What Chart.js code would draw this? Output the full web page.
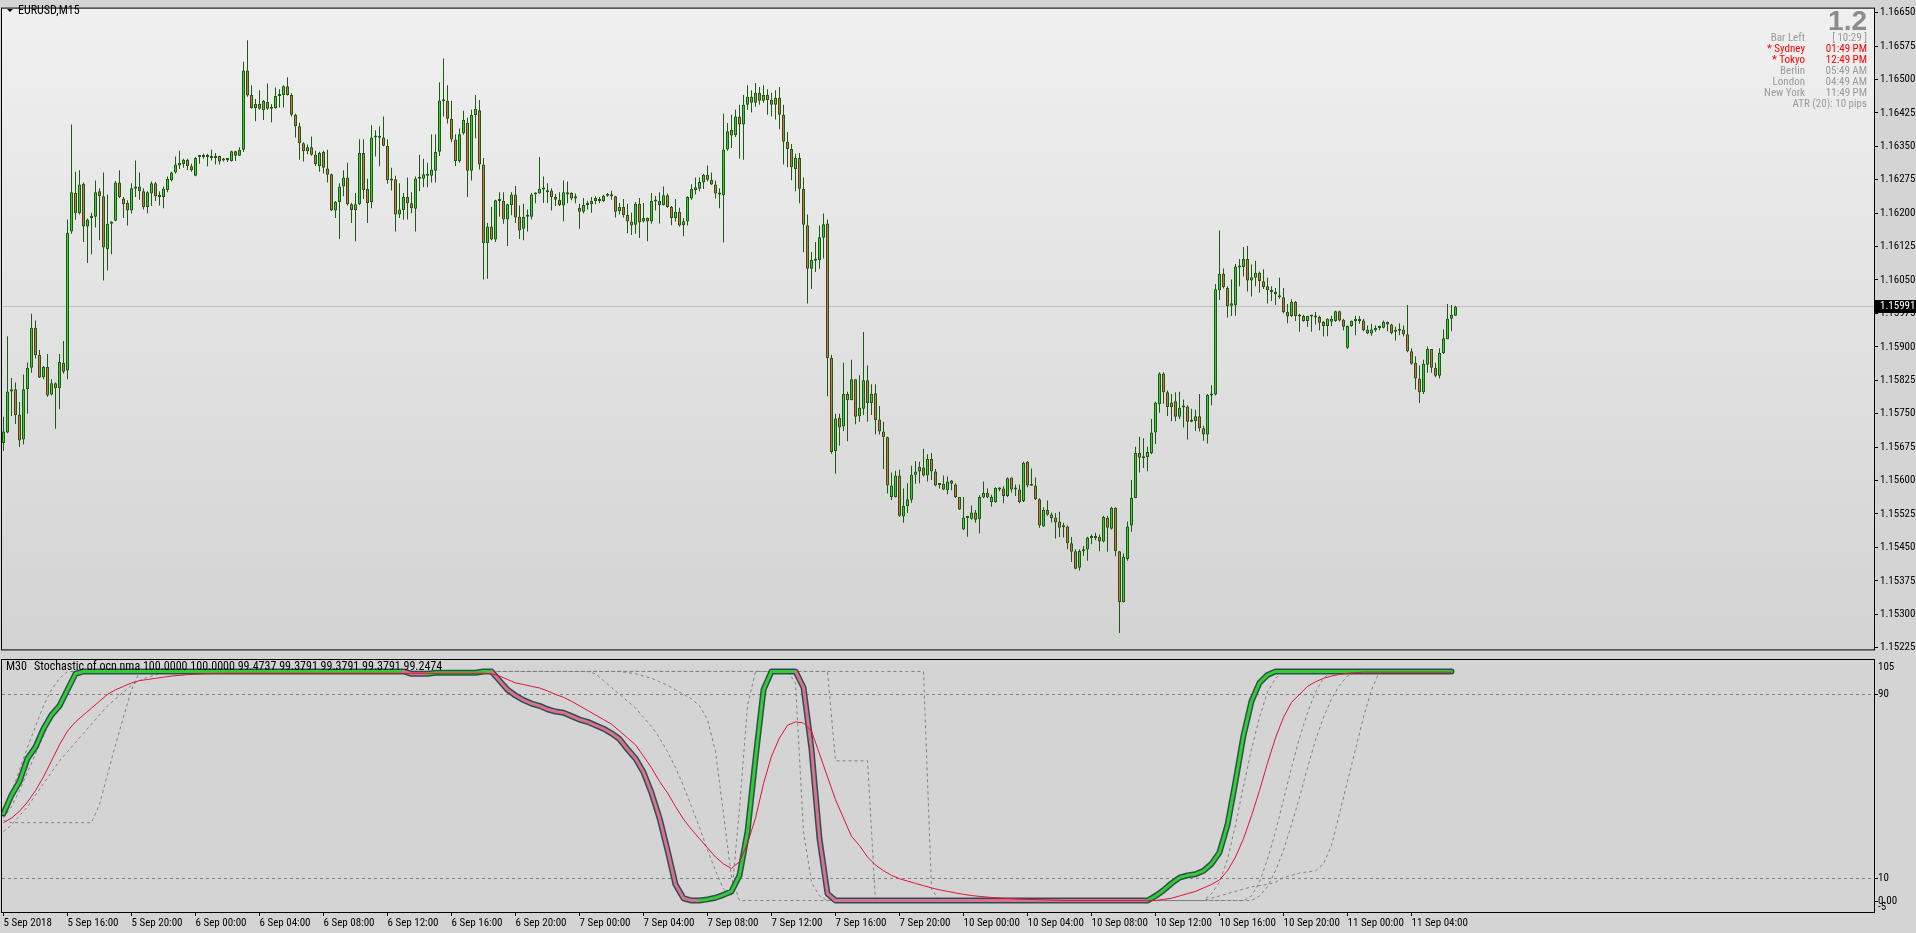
<!DOCTYPE html>
<html>
<head>
<meta charset="utf-8">
<title>EURUSD,M15</title>
<script src="https://cdn.jsdelivr.net/npm/chart.js@4.4.1/dist/chart.umd.min.js"></script>
<style>
html, body { margin: 0; padding: 0; background: #d4d4d4; overflow: hidden; }
#wrap { position: relative; width: 1916px; height: 933px; }
#main { position: absolute; left: 0; top: 0; }
#sub { position: absolute; left: 0; top: 658px; }
</style>
</head>
<body>
<div id="wrap">
<canvas id="main" width="1916" height="658"></canvas>
<canvas id="sub" width="1916" height="275"></canvas>
</div>
<script>
// EURUSD M15 candles, 5 Sep 2018 12:00 .. 11 Sep 2018 06:45
const opens = [
1.15684,1.15708,1.15800,1.15805,1.15748,1.15692,1.15805,1.15853,1.15943,1.15882,
1.15832,1.15855,1.15793,1.15818,1.15807,1.15864,1.15847,1.16159,1.16245,1.16200,
1.16266,1.16170,1.16189,1.16192,1.16249,1.16238,1.16119,1.16176,1.16183,1.16269,
1.16233,1.16223,1.16206,1.16255,1.16260,1.16249,1.16214,1.16244,1.16267,1.16236,
1.16236,1.16252,1.16274,1.16291,1.16307,1.16310,1.16320,1.16305,1.16284,1.16326,
1.16326,1.16328,1.16326,1.16324,1.16328,1.16318,1.16319,1.16317,1.16339,1.16329,
1.16342,1.16520,1.16465,1.16436,1.16445,1.16431,1.16450,1.16434,1.16436,1.16463,
1.16465,1.16485,1.16465,1.16421,1.16395,1.16357,1.16339,1.16348,1.16331,1.16305,
1.16337,1.16300,1.16287,1.16206,1.16225,1.16260,1.16280,1.16220,1.16207,1.16220,
1.16335,1.16254,1.16225,1.16370,1.16370,1.16370,1.16351,1.16273,1.16276,1.16197,
1.16207,1.16236,1.16222,1.16210,1.16277,1.16277,1.16284,1.16284,1.16295,1.16338,
1.16451,1.16452,1.16412,1.16365,1.16317,1.16379,1.16403,1.16295,1.16420,1.16431,
1.16309,1.16133,1.16170,1.16141,1.16227,1.16227,1.16186,1.16218,1.16242,1.16192,
1.16165,1.16192,1.16192,1.16242,1.16244,1.16254,1.16249,1.16251,1.16236,1.16230,
1.16217,1.16247,1.16245,1.16233,1.16212,1.16203,1.16218,1.16220,1.16227,1.16232,
1.16227,1.16239,1.16242,1.16238,1.16204,1.16214,1.16196,1.16181,1.16174,1.16221,
1.16181,1.16189,1.16181,1.16226,1.16227,1.16218,1.16240,1.16214,1.16189,1.16203,
1.16173,1.16181,1.16233,1.16252,1.16255,1.16269,1.16286,1.16275,1.16264,1.16242,
1.16240,1.16343,1.16387,1.16375,1.16417,1.16399,1.16443,1.16461,1.16448,1.16470,
1.16452,1.16465,1.16454,1.16443,1.16459,1.16421,1.16360,1.16344,1.16299,1.16324,
1.16254,1.16173,1.16075,1.16093,1.16094,1.16145,1.16177,1.15875,1.15666,1.15741,
1.15721,1.15794,1.15780,1.15827,1.15744,1.15761,1.15825,1.15774,1.15796,1.15737,
1.15710,1.15697,1.15563,1.15563,1.15611,1.15519,1.15543,1.15557,1.15613,1.15620,
1.15629,1.15611,1.15648,1.15620,1.15590,1.15593,1.15578,1.15600,1.15591,1.15563,
1.15490,1.15517,1.15514,1.15528,1.15513,1.15562,1.15572,1.15551,1.15551,1.15580,
1.15582,1.15565,1.15607,1.15580,1.15580,1.15554,1.15642,1.15589,1.15589,1.15558,
1.15497,1.15534,1.15524,1.15517,1.15508,1.15497,1.15497,1.15459,1.15441,1.15404,
1.15441,1.15445,1.15472,1.15472,1.15473,1.15463,1.15516,1.15492,1.15539,1.15441,
1.15327,1.15424,1.15499,1.15561,1.15662,1.15653,1.15653,1.15662,1.15708,1.15771,
1.15840,1.15798,1.15765,1.15778,1.15743,1.15765,1.15766,1.15733,1.15733,1.15744,
1.15717,1.15703,1.15791,1.15793,1.16027,1.16064,1.16032,1.15992,1.15994,1.16078,
1.16079,1.16097,1.16049,1.16055,1.16066,1.16047,1.16036,1.16024,1.16023,1.16016,
1.16011,1.15978,1.15969,1.16001,1.15969,1.15969,1.15958,1.15969,1.15967,1.15967,
1.15956,1.15947,1.15956,1.15958,1.15980,1.15961,1.15898,1.15947,1.15959,1.15959,
1.15959,1.15939,1.15930,1.15937,1.15943,1.15943,1.15956,1.15950,1.15935,1.15937,
1.15939,1.15928,1.15890,1.15864,1.15829,1.15798,1.15860,1.15895,1.15853,1.15835,
1.15886,1.15917,1.15963,1.15970
];
const highs = [
1.15743,1.15924,1.15830,1.15820,1.15776,1.15838,1.15865,1.15974,1.15959,1.15893,
1.15857,1.15884,1.15827,1.15820,1.15884,1.15913,1.16186,1.16399,1.16293,1.16296,
1.16269,1.16188,1.16201,1.16273,1.16256,1.16291,1.16242,1.16182,1.16272,1.16296,
1.16236,1.16229,1.16267,1.16318,1.16291,1.16256,1.16249,1.16271,1.16270,1.16249,
1.16260,1.16282,1.16293,1.16327,1.16340,1.16322,1.16322,1.16311,1.16326,1.16329,
1.16333,1.16333,1.16342,1.16335,1.16329,1.16324,1.16324,1.16340,1.16340,1.16348,
1.16540,1.16588,1.16487,1.16456,1.16476,1.16454,1.16491,1.16445,1.16482,1.16478,
1.16487,1.16505,1.16469,1.16423,1.16403,1.16359,1.16354,1.16372,1.16340,1.16338,
1.16340,1.16342,1.16289,1.16227,1.16267,1.16296,1.16313,1.16223,1.16245,1.16366,
1.16366,1.16277,1.16397,1.16386,1.16395,1.16417,1.16366,1.16302,1.16284,1.16267,
1.16245,1.16280,1.16247,1.16282,1.16331,1.16322,1.16313,1.16377,1.16377,1.16494,
1.16547,1.16487,1.16452,1.16377,1.16390,1.16430,1.16414,1.16432,1.16465,1.16454,
1.16324,1.16178,1.16214,1.16230,1.16247,1.16247,1.16221,1.16247,1.16261,1.16217,
1.16221,1.16208,1.16245,1.16247,1.16326,1.16282,1.16267,1.16256,1.16243,1.16247,
1.16273,1.16271,1.16247,1.16244,1.16221,1.16234,1.16228,1.16236,1.16238,1.16236,
1.16241,1.16245,1.16250,1.16239,1.16223,1.16232,1.16221,1.16201,1.16225,1.16234,
1.16223,1.16190,1.16245,1.16239,1.16247,1.16260,1.16244,1.16216,1.16232,1.16212,
1.16189,1.16238,1.16265,1.16280,1.16280,1.16288,1.16307,1.16291,1.16273,1.16256,
1.16423,1.16402,1.16421,1.16432,1.16443,1.16465,1.16487,1.16476,1.16492,1.16483,
1.16487,1.16478,1.16470,1.16476,1.16483,1.16443,1.16382,1.16355,1.16333,1.16335,
1.16280,1.16197,1.16113,1.16135,1.16172,1.16199,1.16186,1.15882,1.15750,1.15750,
1.15864,1.15799,1.15871,1.15827,1.15836,1.15933,1.15858,1.15816,1.15816,1.15767,
1.15732,1.15699,1.15618,1.15622,1.15624,1.15582,1.15594,1.15633,1.15644,1.15642,
1.15671,1.15659,1.15662,1.15626,1.15594,1.15611,1.15609,1.15601,1.15594,1.15563,
1.15563,1.15518,1.15544,1.15534,1.15567,1.15598,1.15582,1.15568,1.15585,1.15585,
1.15587,1.15607,1.15607,1.15591,1.15591,1.15642,1.15644,1.15627,1.15607,1.15560,
1.15540,1.15555,1.15528,1.15527,1.15530,1.15505,1.15499,1.15473,1.15446,1.15446,
1.15453,1.15474,1.15479,1.15483,1.15479,1.15521,1.15521,1.15541,1.15540,1.15442,
1.15436,1.15508,1.15601,1.15676,1.15698,1.15695,1.15676,1.15738,1.15777,1.15843,
1.15843,1.15802,1.15794,1.15798,1.15799,1.15782,1.15769,1.15761,1.15759,1.15794,
1.15723,1.15794,1.15814,1.16041,1.16161,1.16076,1.16036,1.16051,1.16086,1.16097,
1.16124,1.16126,1.16085,1.16093,1.16069,1.16074,1.16055,1.16036,1.16032,1.16055,
1.16032,1.15996,1.16007,1.16003,1.15974,1.15972,1.15970,1.15970,1.15978,1.15970,
1.15958,1.15964,1.15970,1.15981,1.15981,1.15963,1.15948,1.15959,1.15970,1.15969,
1.15963,1.15948,1.15952,1.15948,1.15948,1.15959,1.15957,1.15952,1.15945,1.15953,
1.15948,1.15994,1.15897,1.15879,1.15858,1.15871,1.15901,1.15895,1.15864,1.15897,
1.15939,1.15996,1.15994,1.15992
];
const lows = [
1.15666,1.15706,1.15745,1.15727,1.15675,1.15681,1.15750,1.15842,1.15874,1.15830,
1.15827,1.15788,1.15791,1.15716,1.15760,1.15840,1.15827,1.16154,1.16185,1.16197,
1.16135,1.16088,1.16108,1.16168,1.16139,1.16049,1.16071,1.16108,1.16182,1.16234,
1.16189,1.16172,1.16199,1.16236,1.16230,1.16208,1.16200,1.16216,1.16227,1.16217,
1.16211,1.16247,1.16271,1.16289,1.16299,1.16302,1.16296,1.16293,1.16283,1.16311,
1.16322,1.16305,1.16318,1.16309,1.16309,1.16316,1.16315,1.16316,1.16317,1.16328,
1.16337,1.16461,1.16434,1.16406,1.16432,1.16409,1.16432,1.16404,1.16434,1.16437,
1.16437,1.16464,1.16417,1.16370,1.16320,1.16316,1.16332,1.16329,1.16306,1.16293,
1.16289,1.16269,1.16205,1.16189,1.16142,1.16238,1.16217,1.16178,1.16137,1.16218,
1.16232,1.16178,1.16211,1.16327,1.16305,1.16350,1.16266,1.16251,1.16159,1.16189,
1.16185,1.16186,1.16200,1.16159,1.16249,1.16258,1.16258,1.16269,1.16269,1.16328,
1.16417,1.16401,1.16359,1.16306,1.16313,1.16376,1.16236,1.16273,1.16368,1.16298,
1.16051,1.16053,1.16139,1.16135,1.16192,1.16176,1.16126,1.16195,1.16178,1.16142,
1.16139,1.16159,1.16186,1.16222,1.16244,1.16223,1.16223,1.16206,1.16216,1.16216,
1.16182,1.16222,1.16229,1.16222,1.16165,1.16200,1.16208,1.16201,1.16220,1.16222,
1.16225,1.16237,1.16230,1.16190,1.16197,1.16190,1.16155,1.16151,1.16154,1.16144,
1.16179,1.16137,1.16176,1.16206,1.16177,1.16217,1.16212,1.16173,1.16181,1.16170,
1.16148,1.16172,1.16230,1.16242,1.16249,1.16254,1.16271,1.16263,1.16233,1.16211,
1.16134,1.16340,1.16346,1.16371,1.16322,1.16320,1.16432,1.16426,1.16439,1.16443,
1.16448,1.16421,1.16417,1.16410,1.16388,1.16309,1.16303,1.16274,1.16249,1.16222,
1.16112,1.15997,1.16030,1.16068,1.16075,1.16098,1.15789,1.15660,1.15615,1.15678,
1.15711,1.15688,1.15780,1.15726,1.15732,1.15747,1.15732,1.15747,1.15704,1.15703,
1.15626,1.15571,1.15556,1.15562,1.15518,1.15505,1.15527,1.15550,1.15593,1.15594,
1.15609,1.15598,1.15601,1.15587,1.15582,1.15578,1.15569,1.15578,1.15561,1.15534,
1.15489,1.15474,1.15512,1.15505,1.15481,1.15560,1.15561,1.15541,1.15550,1.15576,
1.15549,1.15563,1.15573,1.15565,1.15549,1.15552,1.15585,1.15588,1.15556,1.15494,
1.15496,1.15521,1.15506,1.15470,1.15473,1.15472,1.15446,1.15417,1.15401,1.15398,
1.15431,1.15420,1.15457,1.15466,1.15441,1.15461,1.15440,1.15490,1.15430,1.15258,
1.15326,1.15420,1.15485,1.15560,1.15618,1.15628,1.15621,1.15659,1.15682,1.15752,
1.15772,1.15745,1.15733,1.15733,1.15738,1.15719,1.15692,1.15731,1.15711,1.15710,
1.15689,1.15683,1.15769,1.15791,1.16005,1.16031,1.15966,1.15969,1.15970,1.16036,
1.16058,1.16024,1.16013,1.16036,1.16022,1.16030,1.15997,1.16003,1.15994,1.16008,
1.15975,1.15953,1.15967,1.15958,1.15934,1.15956,1.15945,1.15934,1.15950,1.15937,
1.15923,1.15924,1.15946,1.15956,1.15957,1.15937,1.15895,1.15945,1.15926,1.15952,
1.15935,1.15928,1.15925,1.15934,1.15937,1.15941,1.15935,1.15928,1.15914,1.15926,
1.15923,1.15888,1.15860,1.15804,1.15774,1.15794,1.15842,1.15842,1.15832,1.15829,
1.15884,1.15917,1.15935,1.15969
];
const closes = [
1.15710,1.15800,1.15805,1.15747,1.15690,1.15805,1.15853,1.15943,1.15881,1.15831,
1.15855,1.15791,1.15818,1.15807,1.15866,1.15844,1.16156,1.16247,1.16200,1.16264,
1.16170,1.16186,1.16194,1.16247,1.16238,1.16123,1.16176,1.16181,1.16269,1.16236,
1.16220,1.16206,1.16256,1.16260,1.16249,1.16214,1.16247,1.16267,1.16238,1.16239,
1.16255,1.16277,1.16291,1.16309,1.16313,1.16320,1.16305,1.16296,1.16324,1.16328,
1.16328,1.16326,1.16324,1.16328,1.16316,1.16319,1.16320,1.16339,1.16329,1.16342,
1.16520,1.16464,1.16436,1.16445,1.16434,1.16452,1.16434,1.16436,1.16463,1.16465,
1.16485,1.16465,1.16421,1.16395,1.16357,1.16339,1.16348,1.16331,1.16310,1.16335,
1.16302,1.16286,1.16206,1.16225,1.16260,1.16280,1.16220,1.16207,1.16220,1.16335,
1.16252,1.16223,1.16370,1.16371,1.16369,1.16351,1.16274,1.16276,1.16197,1.16208,
1.16236,1.16222,1.16211,1.16278,1.16278,1.16287,1.16286,1.16298,1.16337,1.16453,
1.16453,1.16412,1.16365,1.16317,1.16377,1.16409,1.16295,1.16420,1.16434,1.16309,
1.16133,1.16170,1.16141,1.16229,1.16229,1.16186,1.16220,1.16242,1.16190,1.16161,
1.16192,1.16194,1.16242,1.16244,1.16255,1.16253,1.16247,1.16236,1.16230,1.16218,
1.16247,1.16242,1.16233,1.16238,1.16203,1.16218,1.16220,1.16227,1.16234,1.16227,
1.16239,1.16242,1.16238,1.16203,1.16214,1.16196,1.16181,1.16172,1.16221,1.16179,
1.16189,1.16181,1.16227,1.16228,1.16218,1.16240,1.16214,1.16189,1.16203,1.16172,
1.16182,1.16236,1.16254,1.16258,1.16270,1.16286,1.16275,1.16264,1.16244,1.16244,
1.16343,1.16384,1.16374,1.16417,1.16399,1.16443,1.16461,1.16448,1.16470,1.16452,
1.16465,1.16454,1.16443,1.16459,1.16421,1.16360,1.16344,1.16303,1.16324,1.16255,
1.16174,1.16075,1.16095,1.16096,1.16146,1.16175,1.15875,1.15664,1.15739,1.15719,
1.15794,1.15780,1.15827,1.15743,1.15763,1.15825,1.15774,1.15794,1.15736,1.15710,
1.15697,1.15589,1.15589,1.15611,1.15521,1.15543,1.15558,1.15613,1.15620,1.15631,
1.15611,1.15648,1.15620,1.15589,1.15593,1.15580,1.15598,1.15593,1.15563,1.15535,
1.15517,1.15516,1.15528,1.15512,1.15563,1.15572,1.15562,1.15563,1.15583,1.15583,
1.15565,1.15605,1.15580,1.15581,1.15552,1.15640,1.15589,1.15588,1.15558,1.15499,
1.15534,1.15523,1.15516,1.15506,1.15494,1.15495,1.15459,1.15440,1.15402,1.15442,
1.15444,1.15472,1.15471,1.15471,1.15463,1.15518,1.15494,1.15539,1.15441,1.15327,
1.15429,1.15497,1.15561,1.15662,1.15651,1.15650,1.15664,1.15708,1.15775,1.15840,
1.15798,1.15765,1.15775,1.15743,1.15763,1.15764,1.15732,1.15732,1.15744,1.15717,
1.15703,1.15792,1.15794,1.16029,1.16064,1.16034,1.15991,1.15998,1.16080,1.16080,
1.16097,1.16049,1.16056,1.16066,1.16047,1.16034,1.16027,1.16023,1.16018,1.16011,
1.15978,1.15968,1.16001,1.15969,1.15968,1.15958,1.15969,1.15968,1.15966,1.15954,
1.15947,1.15963,1.15963,1.15980,1.15959,1.15945,1.15947,1.15958,1.15958,1.15958,
1.15937,1.15930,1.15939,1.15942,1.15942,1.15956,1.15950,1.15931,1.15934,1.15936,
1.15928,1.15890,1.15862,1.15829,1.15798,1.15862,1.15895,1.15853,1.15835,1.15886,
1.15919,1.15963,1.15972,1.15990
];
const bidPrice = 1.15991;
const priceTicks = [1.16650,1.16575,1.16500,1.16425,1.16350,1.16275,1.16200,1.16125,1.16050,1.15975,
  1.15900,1.15825,1.15750,1.15675,1.15600,1.15525,1.15450,1.15375,1.15300,1.15225];

// time axis: label text and the M15 bar it sits on
const timeLabels = ['5 Sep 2018','5 Sep 16:00','5 Sep 20:00','6 Sep 00:00','6 Sep 04:00','6 Sep 08:00',
  '6 Sep 12:00','6 Sep 16:00','6 Sep 20:00','7 Sep 00:00','7 Sep 04:00','7 Sep 08:00','7 Sep 12:00',
  '7 Sep 16:00','7 Sep 20:00','10 Sep 00:00','10 Sep 04:00','10 Sep 08:00','10 Sep 12:00','10 Sep 16:00',
  '10 Sep 20:00','11 Sep 00:00','11 Sep 04:00'];
const timeLabelBars = [0,16,32,48,64,80,96,112,128,144,160,176,192,208,224,240,256,272,288,304,320,336,352];

// info panel top right
const spreadText = '1.2';
const infoNames = ['Bar Left','* Sydney','* Tokyo','Berlin','London','New York'];
const infoValues = ['[ 10:29 ]','01:49 PM','12:49 PM','05:49 AM','04:49 AM','11:49 PM'];
const infoOpen = [false,true,true,false,false,false];
const atrText = 'ATR (20): 10 pips';

// stochastic sub window, one value per M30 bar
const indName = 'Stochastic of ocn nma';
const indValues = [100, 100, 99.4737, 99.3791, 99.3791, 99.3791, 99.2474];
const levels = [90, 10];
const stochMain = [
38,46,52,62,67,75,81,85,92,99,
100,100,100,100,100,100,100,100,100,100,
100,100,100,100,100,100,100,100,100,100,
100,100,100,100,100,100,100,100,100,100,
100,100,100,100,100,100,100,100,100,100,
100,99,99,99,99.4,99.4,99.4,99.4,99.4,99.4,
100,100,96,92,89.5,87.5,86,85,83.5,82.5,
82,80.5,79,78,76.5,75,73,70.5,66,62,
56,47,36,22,7,1,0,0,0.5,1.2,
2.5,4,11,30,62,92,100,100,100,100,
93,66,27,3,0,0,0,0,0,0,
0,0,0,0,0,0,0,0,0,0,
0,0,0,0,0,0,0,0,0,0,
0,0,0,0,0,0,0,0,0,0,
0,0,0,0,2,4.5,7.5,10,11,11.5,
13,16,21,33,52,72,87,95,98.5,100,
100,100,100,100,100,100,100,100,100,100,
100,100,100,100,100,100,100,100,100,100,
100,100
];
const stochSignal = [
34,36,39,43,48,54,61,68,74,78,
81,84,87,90,92,93.5,95,96,96.5,97,
97.5,98,98.3,98.6,98.8,99,99.1,99.2,99.2,99.2,
99.2,99.2,99.2,99.2,99.2,99.2,99.2,99.2,99.2,99.2,
99.2,99.2,99.2,99.2,99.2,99.2,99.2,99.2,99.2,99.2,
99.2,99.2,99.2,99.2,99.2,99.2,99.2,99.2,99.2,99.2,
99.2,99,98,96.5,95,94.3,93.5,92.8,91.5,90,
88.7,87,85,83,81,79,77,74,71,68,
63,58,52,47,41,35.5,31,27,23,19,
16,14,17,25,36,51,63,71,76.5,78,
77.5,74,64,54,44,36,28,24,19,15.5,
13,11,9.5,8.5,7.5,6.5,5.5,4.7,4,3.3,
2.7,2.2,1.8,1.5,1.2,1,0.8,0.6,0.5,0.4,
0.3,0.2,0.1,0,0,0,0,0,0,0,
0,0,0,0,0,0.5,1,2,3,4,
5.5,7,9,13,19,27,37,48,60,71,
80,86.5,90,93.5,95.5,97,98,98.7,99.2,99.5,
99.7,99.7,99.7,99.7,99.7,99.7,99.7,99.7,99.7,99.7,
99.7,99.7
];
const stochH1 = [
40,47,57,67,76,85,92,97,100,100,
100,100,100,100,100,100,100,100,100,100,
100,100,100,100,100,100,100,100,100,100,
100,100,100,100,100,100,100,100,100,100,
100,100,100,100,100,100,100,100,100,100,
100,100,100,100,100,100,100,100,100,100,
100,100,100,100,100,100,100,100,100,100,
100,100,100,100,99,96,93,90,87,84,
80,76,71,65,58,50,41,32,22,13,
5,2,40,85,100,100,100,100,100,95,
30,8,2,0,0,0,0,0,0,0,
0,0,0,0,0,0,0,0,0,0,
0,0,0,0,0,0,0,0,0,0,
0,0,0,0,0,0,0,0,0,0,
0,0,0,0,0,0,0,0,0,0,
0,3,8,18,33,50,66,80,91,97,
100,100,100,100,100,100,100,100,100,100,
100,100,100,100,100,100,100,100,100,100,
100,100
];
const stochH4 = [
35,34,34,34,34,34,34,34,34,34,
34,34,42,55,68,80,92,100,100,100,
100,100,100,100,100,100,100,100,100,100,
100,100,100,100,100,100,100,100,100,100,
100,100,100,100,100,100,100,100,100,100,
100,100,100,100,100,100,100,100,100,100,
100,100,100,100,100,100,100,100,100,100,
100,100,100,100,100,100,100,100,100,100,
100,100,100,100,100,100,100,100,100,100,
100,100,100,100,100,100,100,100,100,100,
100,100,100,100,61,61,61,61,61,0,
0,0,0,0,0,0,0,0,0,0,
0,0,0,0,0,0,0,0,0,0,
0,0,0,0,0,0,0,0,0,0,
0,0,0,0,0,0,0,0,0,0,
0,0,0,0,0,0,2,8,18,30,
44,58,71,82,91,97,100,100,100,100,
100,100,100,100,100,100,100,100,100,100,
100,100
];
const stochD1 = [
30,33,37,41,46,51,56,61,65,69,
73,77,81,85,88,91,94,96,97.5,98.5,
99.5,100,100,100,100,100,100,100,100,100,
100,100,100,100,100,100,100,100,100,100,
100,100,100,100,100,100,100,100,100,100,
100,100,100,100,100,100,100,100,100,100,
100,100,100,100,100,100,100,100,100,100,
100,100,100,100,100,100,100,100,100,100,
100,100,100,100,100,100,100,100,100,100,
100,100,100,100,100,100,100,100,100,100,
100,100,100,100,100,100,100,100,100,100,
100,100,100,100,100,100,5,0,0,0,
0,0,0,0,0,0,0,0,0,0,
0,0,0,0,0,0,0,0,0,0,
0,0,0,0,0,0,0,0,0,0,
0,1,2,3,4,5,6,6.5,7,8,
10,11,12,12.5,13,16,24,38,52,66,
80,92,100,100,100,100,100,100,100,100,
100,100
];
const stochM30 = [
36,41,48,56,64,72,80,87,93,97,
100,100,100,100,100,100,100,100,100,100,
100,100,100,100,100,100,100,100,100,100,
100,100,100,100,100,100,100,100,100,100,
100,100,100,100,100,100,100,100,100,100,
100,100,100,100,100,100,100,100,100,100,
100,100,100,100,100,100,100,100,100,100,
100,100,100,100,100,100,100,100,99.5,99,
98,97,95.5,94,92,90,88,85,79,65,
38,10,0,0,0,0,0,0,0,0,
0,0,0,0,0,0,0,0,0,0,
0,0,0,0,0,0,0,0,0,0,
0,0,0,0,0,0,0,0,0,0,
0,0,0,0,0,0,0,0,0,0,
0,0,0,0,0,0,0,0,0,0,
0,0,0,0,0,0,0,2,6,13,
22,33,45,58,70,80,88,94,98,100,
100,100,100,100,100,100,100,100,100,100,
100,100
];

const FONT = "'Roboto Condensed', 'DejaVu Sans Condensed', sans-serif";
Chart.defaults.font.family = FONT;
Chart.defaults.font.size = 11;
Chart.defaults.color = '#000';

const BULL = '#3ccb3c', BEAR = '#e4674c', EDGE = '#1f5a14';
const GREEN = '#32cd32', PINK = '#db7093';
const M15_PER_M30 = 2;
const X_MIN = -0.375, X_MAX = 467.625;

const wickData = highs.map((h, i) => ({ x: i, y: [lows[i], h] }));
const bodyData = opens.map((o, i) => ({ x: i, y: [o, closes[i]] }));
const bodyColors = opens.map((o, i) => closes[i] >= o ? BULL : BEAR);

const toPts = arr => arr.map((v, j) => ({ x: j * M15_PER_M30, y: v }));
const mainColors = [];
let dir = GREEN;
for (let j = 0; j < stochMain.length - 1; j++) {
  if (stochMain[j + 1] > stochMain[j]) dir = GREEN;
  else if (stochMain[j + 1] < stochMain[j]) dir = PINK;
  mainColors.push(dir);
}

const mainDecor = {
  id: 'mainDecor',
  beforeDraw(chart) {
    const { ctx, chartArea: a } = chart;
    const g = ctx.createLinearGradient(0, a.top, 0, a.bottom);
    g.addColorStop(0, '#f0f0f0');
    g.addColorStop(1, '#d3d3d3');
    ctx.save();
    ctx.fillStyle = g;
    ctx.fillRect(a.left, a.top, a.right - a.left, a.bottom - a.top);
    ctx.restore();
  },
  beforeDatasetsDraw(chart) {
    const { ctx, chartArea: a, scales: { y } } = chart;
    const py = Math.round(y.getPixelForValue(bidPrice)) + 0.5;
    ctx.save();
    ctx.strokeStyle = '#c0c0c0';
    ctx.lineWidth = 1;
    ctx.beginPath();
    ctx.moveTo(a.left, py);
    ctx.lineTo(a.right, py);
    ctx.stroke();
    ctx.restore();
  },
  afterDraw(chart) {
    const { ctx, chartArea: a, scales: { y } } = chart;
    ctx.save();
    ctx.strokeStyle = '#000';
    ctx.lineWidth = 1;
    ctx.strokeRect(a.left - 0.5, a.top - 0.5, a.right - a.left + 1, a.bottom - a.top + 1);

    // current bid on the price scale
    const py = Math.round(y.getPixelForValue(bidPrice));
    ctx.fillStyle = '#000';
    ctx.fillRect(a.right + 1, py - 6, 41, 13);
    ctx.fillStyle = '#fff';
    ctx.font = '11px ' + FONT;
    ctx.textBaseline = 'middle';
    ctx.textAlign = 'left';
    ctx.fillText(bidPrice.toFixed(5), a.right + 6, py + 0.5);

    // symbol title
    ctx.fillStyle = '#000';
    ctx.beginPath();
    ctx.moveTo(7, 9); ctx.lineTo(13, 9); ctx.lineTo(10, 12); ctx.closePath();
    ctx.fill();
    ctx.font = '12px ' + FONT;
    ctx.fillText('EURUSD,M15', 18, 11);

    // info block
    ctx.textAlign = 'right';
    ctx.fillStyle = '#8c8c8c';
    ctx.font = 'bold 28px "Liberation Sans", Arial, sans-serif';
    ctx.textBaseline = 'alphabetic';
    ctx.fillText(spreadText, 1867, 30);
    ctx.font = '11px ' + FONT;
    ctx.textBaseline = 'middle';
    infoNames.forEach((n, i) => {
      const yy = 38 + i * 11.1;
      ctx.fillStyle = infoOpen[i] ? '#ff0000' : '#9a9a9a';
      ctx.fillText(n, 1805, yy);
      ctx.fillText(infoValues[i], 1867, yy);
    });
    ctx.fillStyle = '#9a9a9a';
    ctx.fillText(atrText, 1867, 38 + 6 * 11.1);
    ctx.restore();
  }
};

new Chart(document.getElementById('main'), {
  type: 'bar',
  data: {
    datasets: [
      { data: bodyData, barThickness: 3, borderWidth: 1, borderColor: EDGE, backgroundColor: bodyColors,
        borderSkipped: false, minBarLength: 2, grouped: false, inflateAmount: 0, order: 0 },
      { data: wickData, barThickness: 1, borderWidth: 0, backgroundColor: EDGE,
        grouped: false, inflateAmount: 0, order: 1 }
    ]
  },
  options: {
    responsive: false,
    animation: false,
    events: [],
    layout: { padding: { left: 2, top: 2, bottom: 2, right: 0 } },
    plugins: { legend: { display: false }, tooltip: { enabled: false } },
    scales: {
      x: { type: 'linear', min: X_MIN, max: X_MAX, display: false, offset: false },
      y: {
        position: 'right', min: 1.15221, max: 1.16659,
        afterFit: s => { s.width = 42; },
        afterBuildTicks: s => { s.ticks = priceTicks.map(v => ({ value: v })); },
        ticks: { callback: v => v.toFixed(5), padding: 2, autoSkip: false, color: '#000', font: { size: 11 } },
        grid: { drawOnChartArea: false, drawTicks: true, tickLength: 4, color: '#000' },
        border: { display: false }
      }
    }
  },
  plugins: [mainDecor]
});

const subDecor = {
  id: 'subDecor',
  beforeDatasetsDraw(chart) {
    const { ctx, chartArea: a, scales: { y } } = chart;
    ctx.save();
    ctx.strokeStyle = '#808080';
    ctx.lineWidth = 1;
    ctx.setLineDash([3, 3]);
    levels.forEach(l => {
      const py = Math.round(y.getPixelForValue(l)) + 0.5;
      ctx.beginPath();
      ctx.moveTo(a.left, py);
      ctx.lineTo(a.right, py);
      ctx.stroke();
    });
    ctx.restore();
  },
  afterDraw(chart) {
    const { ctx, chartArea: a, scales: { y } } = chart;
    ctx.save();
    ctx.strokeStyle = '#000';
    ctx.lineWidth = 1;
    ctx.strokeRect(a.left - 0.5, a.top - 0.5, a.right - a.left + 1, a.bottom - a.top + 1);
    ctx.font = '11px ' + FONT;
    ctx.fillStyle = '#000';
    ctx.textBaseline = 'middle';
    ctx.textAlign = 'left';
    // value scale
    const marks = [[105, '105', 7], [90, '90', 0], [10, '10', 0], [0, '0.00', 0], [-5, '-5', -5]];
    marks.forEach(([v, t, off]) => {
      const py = Math.round(y.getPixelForValue(v));
      if (off === 0) {
        ctx.beginPath();
        ctx.moveTo(a.right, py + 0.5);
        ctx.lineTo(a.right + 4, py + 0.5);
        ctx.stroke();
      }
      ctx.fillText(t, a.right + 4, py + off);
    });
    // window title
    ctx.font = '12px ' + FONT;
    ctx.fillText('M30', 6, 9);
    ctx.fillText(indName + ' ' + indValues.map(v => v.toFixed(4)).join(' '), 34, 9);
    ctx.restore();
  }
};

const dashed = { borderColor: '#808080', borderWidth: 1, borderDash: [3, 3], order: 3 };
new Chart(document.getElementById('sub'), {
  type: 'line',
  data: {
    datasets: [
      { data: toPts(stochSignal), borderColor: '#dc143c', borderWidth: 1, order: 0 },
      { data: toPts(stochMain), borderColor: GREEN, borderWidth: 3, order: 1,
        borderCapStyle: 'round', borderJoinStyle: 'round',
        segment: { borderColor: c => mainColors[c.p0DataIndex] } },
      { data: toPts(stochMain), borderColor: '#2f4f4f', borderWidth: 6, order: 2,
        borderCapStyle: 'round', borderJoinStyle: 'round' },
      Object.assign({ data: toPts(stochH1) }, dashed),
      Object.assign({ data: toPts(stochH4) }, dashed),
      Object.assign({ data: toPts(stochD1) }, dashed),
      Object.assign({ data: toPts(stochM30) }, dashed)
    ]
  },
  options: {
    responsive: false,
    animation: false,
    events: [],
    layout: { padding: { left: 2, top: 2, right: 42, bottom: 0 } },
    elements: { point: { radius: 0 }, line: { tension: 0 } },
    plugins: { legend: { display: false }, tooltip: { enabled: false } },
    scales: {
      x: {
        type: 'linear', min: X_MIN, max: X_MAX, offset: false,
        afterFit: s => { s.height = 21; },
        afterBuildTicks: s => { s.ticks = timeLabelBars.map(v => ({ value: v })); },
        ticks: { callback: (v, i) => timeLabels[i], align: 'start', labelOffset: 0, maxRotation: 0, minRotation: 0,
                 autoSkip: false, padding: 1, color: '#000', font: { size: 11 } },
        grid: { drawOnChartArea: false, drawTicks: true, tickLength: 4, color: '#000' },
        border: { display: false }
      },
      y: { display: false, min: -5, max: 105 }
    }
  },
  plugins: [subDecor]
});
</script>
</body>
</html>
